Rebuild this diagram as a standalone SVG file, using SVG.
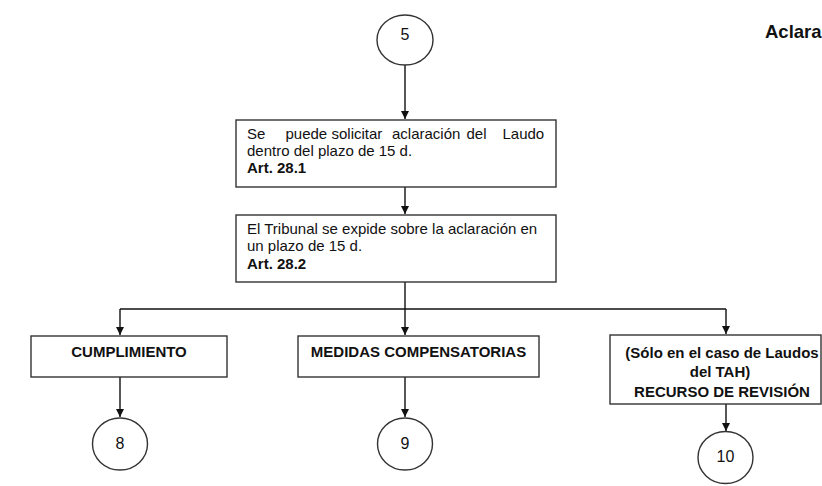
<svg xmlns="http://www.w3.org/2000/svg" width="822" height="486" viewBox="0 0 822 486">
  <defs>
    <marker id="arrow" markerUnits="userSpaceOnUse" markerWidth="9" markerHeight="9" refX="8" refY="4" orient="auto">
      <path d="M0,0 L8,4 L0,8 z" fill="#111"/>
    </marker>
    <style>
      .box { fill: #fff; stroke: #333; stroke-width: 1.4; }
      .conn { fill: none; stroke: #111; stroke-width: 1.4; }
      .arr { marker-end: url(#arrow); }
      .txt { font-family: "Liberation Sans", Arial, sans-serif; font-size: 15px; fill: #111; }
      .b { font-weight: bold; }
      .num { font-family: "Liberation Sans", Arial, sans-serif; font-size: 16px; fill: #111; text-anchor: middle; }
      .mid { text-anchor: middle; }
    </style>
  </defs>
  <rect width="822" height="486" fill="#fff"/>

  <!-- heading, running off the right edge -->
  <text class="txt b" x="765" y="38" style="font-size:18.5px">Aclara</text>

  <!-- connectors -->
  <g id="connectors">
    <path class="conn arr" d="M405,65 V119"/>
    <path class="conn arr" d="M405,187 V214"/>
    <path class="conn arr" d="M405,282 V335"/>
    <path class="conn" d="M120,309 H726"/>
    <path class="conn arr" d="M120,309 V335"/>
    <path class="conn arr" d="M726,309 V334"/>
    <path class="conn arr" d="M120,377 V417"/>
    <path class="conn arr" d="M405,377 V417"/>
    <path class="conn arr" d="M726,404 V431"/>
  </g>

  <g id="c5">
    <ellipse class="box" cx="405" cy="40" rx="28" ry="25"/>
    <text class="num" x="405" y="39.5">5</text>
  </g>

  <g id="aclaracion">
    <rect class="box" x="236" y="120" width="320" height="67"/>
    <text class="txt" y="138.5"><tspan x="247">Se</tspan><tspan x="285.5">puede</tspan><tspan x="331.5">solicitar</tspan><tspan x="392">aclaración</tspan><tspan x="466.5">del</tspan><tspan x="502.5">Laudo</tspan></text>
    <text class="txt" x="247" y="156">dentro del plazo de 15 d.</text>
    <text class="txt b" x="247" y="173">Art. 28.1</text>
  </g>

  <g id="tribunal">
    <rect class="box" x="236" y="215" width="320" height="67"/>
    <text class="txt" x="247" y="234">El Tribunal se expide sobre la aclaración en</text>
    <text class="txt" x="247" y="251">un plazo de 15 d.</text>
    <text class="txt b" x="247" y="268.5">Art. 28.2</text>
  </g>

  <g id="cumplimiento">
    <rect class="box" x="31" y="336" width="196" height="41"/>
    <text class="txt b mid" x="129" y="357">CUMPLIMIENTO</text>
  </g>

  <g id="medidas">
    <rect class="box" x="298" y="336" width="241" height="41"/>
    <text class="txt b mid" x="418.5" y="357">MEDIDAS COMPENSATORIAS</text>
  </g>

  <g id="revision">
    <rect class="box" x="610" y="335" width="211" height="69"/>
    <text class="txt b mid" x="722" y="357.5">(Sólo en el caso de Laudos</text>
    <text class="txt b mid" x="720" y="377">del TAH)</text>
    <text class="txt b mid" x="722" y="397">RECURSO DE REVISIÓN</text>
  </g>

  <g id="c8">
    <ellipse class="box" cx="120" cy="444" rx="27.5" ry="26"/>
    <text class="num" x="120" y="448.5">8</text>
  </g>

  <g id="c9">
    <ellipse class="box" cx="405" cy="444" rx="27.5" ry="26"/>
    <text class="num" x="405" y="448.5">9</text>
  </g>

  <g id="c10">
    <ellipse class="box" cx="725.5" cy="457.5" rx="27.5" ry="26"/>
    <text class="num" x="725.5" y="462">10</text>
  </g>
</svg>
